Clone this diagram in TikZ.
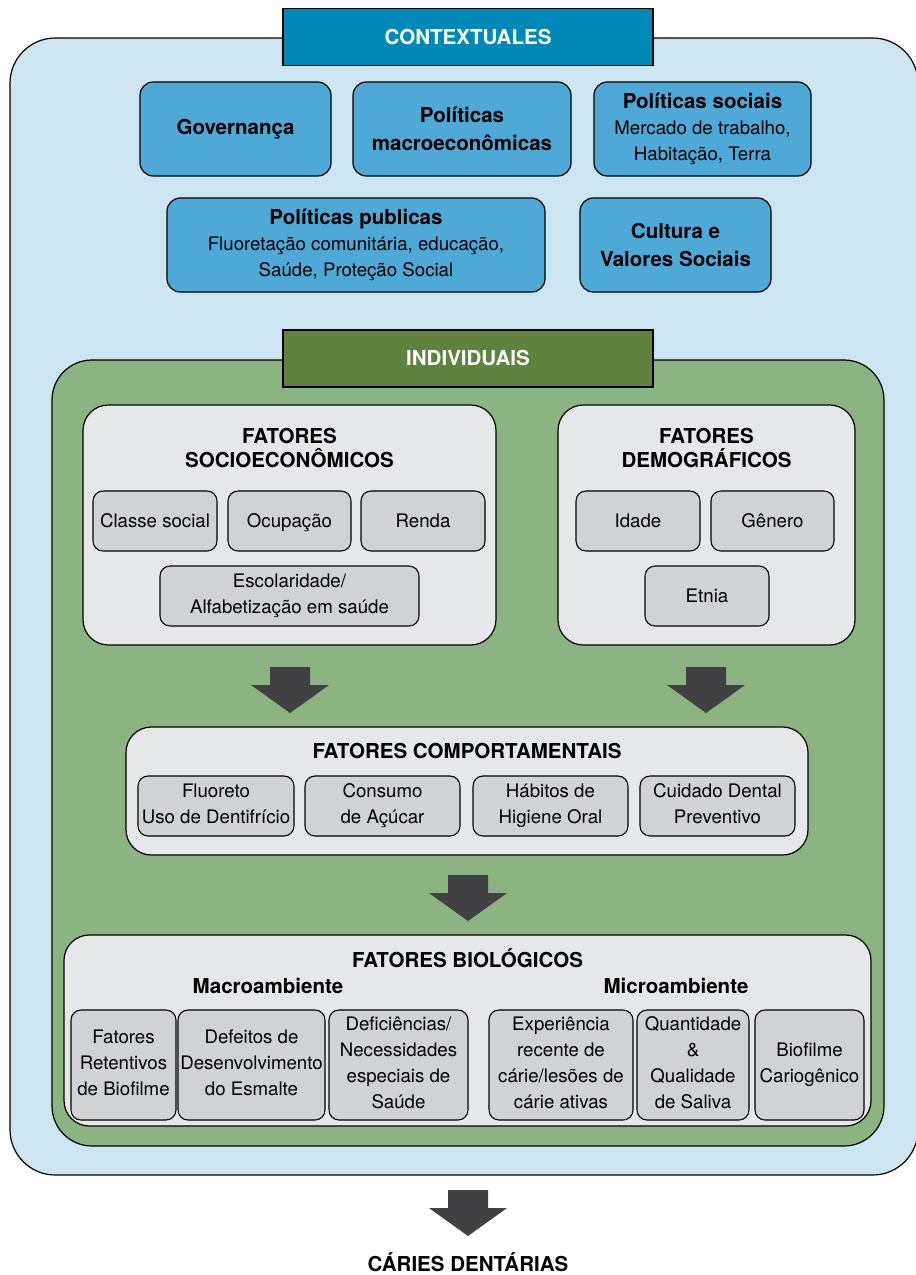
\documentclass[tikz,border=0pt]{standalone}
\usepackage{fontspec}
\setmainfont{TeX Gyre Heros}
\usepackage{tikz}

\definecolor{ctxbg}{HTML}{CDE4F1}
\definecolor{ctxdark}{HTML}{0088B6}
\definecolor{ctxbox}{HTML}{4FA9D6}
\definecolor{indbg}{HTML}{8CB482}
\definecolor{inddark}{HTML}{5F833E}
\definecolor{panelgray}{HTML}{E6E7E8}
\definecolor{itemgray}{HTML}{D1D2D4}
\definecolor{arrowgray}{HTML}{414042}

\tikzset{
  bw/.style={minimum width=#1*0.75pt},
  bh/.style={minimum height=#1*0.75pt},
  body/.style={font=\fontsize{14}{19.5}\selectfont},
  ttl/.style={font=\bfseries\fontsize{15.4}{18.5}\selectfont, align=center, inner sep=0},
  header/.style={draw, line width=0.9pt, text=white, ttl, bw=370, bh=57},
  ctxbox/.style={draw, line width=0.9pt, fill=ctxbox, rounded corners=10pt, align=center, body, bh=94, inner sep=2},
  panel/.style={draw, line width=0.9pt, fill=panelgray, rounded corners=19pt},
  item/.style={draw, line width=0.8pt, fill=itemgray, rounded corners=7.5pt, align=center, body, inner sep=1,
    execute at begin node=\rule{0pt}{14pt}, execute at end node=\rule[-4pt]{0pt}{4pt}},
  blockdown/.pic={
    \fill[arrowgray] (-20,0) -- (20,0) -- (20,18) -- (39,18) -- (0,46) -- (-39,18) -- (-20,18) -- cycle;
  }
}

\begin{document}
\begin{tikzpicture}[x=0.75pt,y=-0.75pt]
\useasboundingbox (0,0) rectangle (915,1275);

% contextuales
\draw[line width=0.9pt, fill=ctxbg, rounded corners=34pt] (10,38) rectangle (918,1175);
\node[header, fill=ctxdark] (ctxhead) at (468,37) {CONTEXTUALES};

\node[ctxbox, bw=191] (gov) at (235.5,129) {\bfseries\fontsize{15.4}{19}\selectfont Governança};
\node[ctxbox, bw=218] (macro) at (462,129) {\bfseries\fontsize{15.4}{19}\selectfont Políticas\\[1pt]\bfseries\fontsize{15.4}{19}\selectfont macroeconômicas};
\node[ctxbox, bw=217] (soc) at (702.5,129) {\bfseries\fontsize{15.4}{19}\selectfont Políticas sociais\\Mercado de trabalho,\\Habitação, Terra};
\node[ctxbox, bw=378] (pub) at (356,245) {\bfseries\fontsize{15.4}{19}\selectfont Políticas publicas\\Fluoretação comunitária, educação,\\Saúde, Proteção Social};
\node[ctxbox, bw=191] (cult) at (675.5,245) {\bfseries\fontsize{15.4}{19}\selectfont Cultura e\\[1pt]\bfseries\fontsize{15.4}{19}\selectfont Valores Sociais};

% individuais
\draw[line width=0.9pt, fill=indbg, rounded corners=30pt] (52,360) rectangle (884,1146);
\node[header, fill=inddark] (indhead) at (468,358.5) {INDIVIDUAIS};

% socioeconomicos
\node[panel, bw=413, bh=240] (socio) at (289.5,525) {};
\node[ttl] (sociottl) at (289.5,448) {FATORES\\SOCIOECONÔMICOS};
\node[item, bw=124, bh=60] (classe) at (155,521) {Classe social};
\node[item, bw=123, bh=60] (ocup) at (289.5,521) {Ocupação};
\node[item, bw=124, bh=60] (renda) at (423,521) {Renda};
\node[item, bw=259, bh=60] (escol) at (289.5,596) {Escolaridade/\\Alfabetização em saúde};

% demograficos
\node[panel, bw=297, bh=240] (demo) at (706.5,525) {};
\node[ttl] (demottl) at (706.5,448) {FATORES\\DEMOGRÁFICOS};
\node[item, bw=124, bh=60] (idade) at (638,521) {Idade};
\node[item, bw=123, bh=60] (genero) at (772.5,521) {Gênero};
\node[item, bw=124, bh=60] (etnia) at (707,596) {Etnia};

\pic at (290,667) {blockdown};
\pic at (706,667) {blockdown};

% comportamentais
\node[panel, bw=682, bh=128] (comp) at (467,791) {};
\node[ttl] (compttl) at (467,751) {FATORES COMPORTAMENTAIS};
\node[item, bw=156, bh=60] (fluor) at (216,806) {Fluoreto\\Uso de Dentifrício};
\node[item, bw=155, bh=60] (acucar) at (382.5,806) {Consumo\\de Açúcar};
\node[item, bw=155, bh=60] (higiene) at (550.5,806) {Hábitos de\\Higiene Oral};
\node[item, bw=155, bh=60] (cuidado) at (717.5,806) {Cuidado Dental\\Preventivo};

\pic at (468,875) {blockdown};

% biologicos
\node[panel, bw=807, bh=191] (bio) at (467.5,1030.5) {};
\node[ttl] (biottl) at (467.5,958) {FATORES BIOLÓGICOS};
\node[ttl] (macroamb) at (268,986) {Macroambiente};
\node[ttl] (microamb) at (676,986) {Microambiente};
\node[item, bw=105, bh=110] (retent) at (123.5,1065) {Fatores\\Retentivos\\de Biofilme};
\node[item, bw=147, bh=110] (esmalte) at (251.5,1065) {Defeitos de\\Desenvolvimento\\do Esmalte};
\node[item, bw=139, bh=110] (defic) at (398.5,1065) {Deficiências/\\Necessidades\\especiais de\\Saúde};
\node[item, bw=144, bh=110] (exper) at (561,1065) {Experiência\\recente de\\cárie/lesões de\\cárie ativas};
\node[item, bw=112, bh=110] (saliva) at (693,1065) {Quantidade\\\&\\Qualidade\\de Saliva};
\node[item, bw=109, bh=110] (biofilme) at (809.5,1065) {Biofilme\\Cariogênico};

\pic at (468,1190) {blockdown};
\node[ttl] (caries) at (468,1262) {CÁRIES DENTÁRIAS};

\end{tikzpicture}
\end{document}
